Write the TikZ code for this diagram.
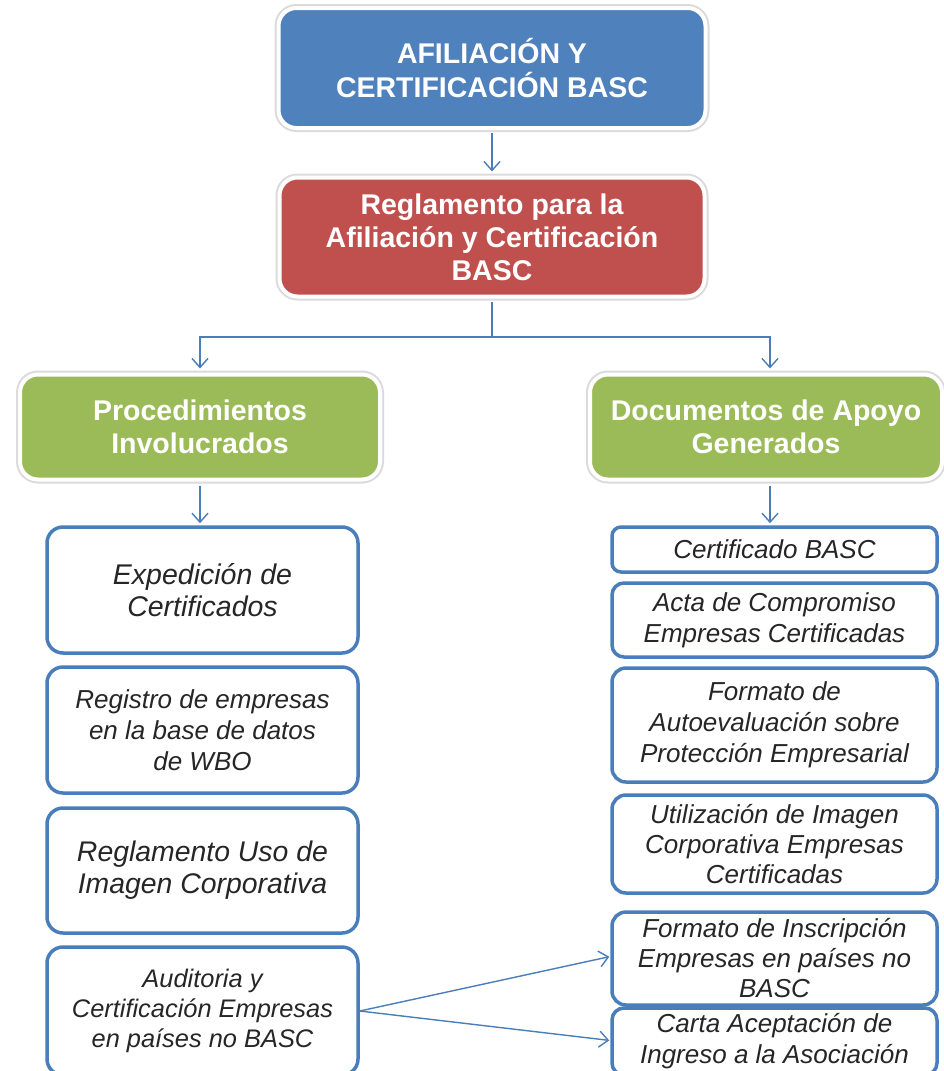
\documentclass[tikz,border=0pt]{standalone}
\usepackage{fontspec}
\setmainfont{Liberation Sans}
\usetikzlibrary{arrows.meta}
\definecolor{bascblue}{HTML}{4F81BD}
\definecolor{bascred}{HTML}{C0504D}
\definecolor{bascgreen}{HTML}{9BBB59}
\definecolor{lineblue}{HTML}{4A7EBB}
\tikzset{
  headbox/.style={rounded corners=18pt, draw=white, line width=4pt,
    preaction={draw=black!14, line width=8pt},
    text=white, align=center, inner sep=0pt,
    font=\bfseries\fontsize{28.5}{33}\selectfont},
  itembox/.style={rounded corners=16pt, draw=lineblue, line width=3.5pt, fill=white,
    align=center, inner sep=0pt, text=black!85},
  arr/.style={draw=lineblue, line width=1.4pt, -{Straight Barb[length=9pt,width=16pt,line width=1.4pt]}},
  lin/.style={draw=lineblue, line width=1.4pt}
}
\begin{document}
\begin{tikzpicture}[x=1pt,y=-1pt]
\useasboundingbox (0,0) rectangle (943,1071);
\fill[white] (0,0) rectangle (943,1071);
% header boxes
\node[headbox, fill=bascblue, minimum width=427pt, minimum height=120pt,
  font=\bfseries\fontsize{28.5}{34}\selectfont] (top) at (492,68)
  {AFILIACIÓN Y\\CERTIFICACIÓN BASC};
\node[headbox, fill=bascred, minimum width=425pt, minimum height=119pt] (reg) at (492,237)
  {Reglamento para la\\Afiliación y Certificación\\BASC};
\node[headbox, fill=bascgreen, minimum width=360pt, minimum height=105pt] (proc) at (200,427)
  {Procedimientos\\Involucrados};
\node[headbox, fill=bascgreen, minimum width=352pt, minimum height=105pt] (docs) at (766,427)
  {Documentos de Apoyo\\Generados};
% left items
\node[itembox, minimum width=311pt, minimum height=126pt,
  font=\itshape\fontsize{28.5}{32}\selectfont] (l1) at (202.5,590)
  {Expedición de\\Certificados};
\node[itembox, minimum width=311pt, minimum height=126pt,
  font=\itshape\fontsize{26}{31}\selectfont] (l2) at (202.5,730)
  {Registro de empresas\\en la base de datos\\de WBO};
\node[itembox, minimum width=311pt, minimum height=125pt,
  font=\itshape\fontsize{28.4}{32}\selectfont] (l3) at (202.5,870.5)
  {Reglamento Uso de\\Imagen Corporativa};
\node[itembox, minimum width=311pt, minimum height=128pt,
  font=\itshape\fontsize{25.4}{30}\selectfont] (l4) at (202.5,1011)
  {Auditoria y\\Certificación Empresas\\en países no BASC};
% right items
\node[itembox, rounded corners=9pt, minimum width=325pt, minimum height=45pt,
  font=\itshape\fontsize{26}{30}\selectfont] (r1) at (774.5,549.5)
  {Certificado BASC};
\node[itembox, rounded corners=12pt, minimum width=325pt, minimum height=74pt,
  font=\itshape\fontsize{26}{31}\selectfont] (r2) at (774.5,620)
  {Acta de Compromiso\\Empresas Certificadas};
\node[itembox, rounded corners=14pt, minimum width=325pt, minimum height=114pt,
  font=\itshape\fontsize{26}{31}\selectfont] (r3) at (774.5,725)
  {Formato de\\Autoevaluación sobre\\Protección Empresarial};
\node[itembox, rounded corners=14pt, minimum width=325pt, minimum height=98pt,
  font=\itshape\fontsize{26}{30}\selectfont] (r4) at (774.5,844)
  {Utilización de Imagen\\Corporativa Empresas\\Certificadas};
\node[itembox, rounded corners=14pt, minimum width=325pt, minimum height=93pt,
  font=\itshape\fontsize{26}{30}\selectfont] (r5) at (774.5,958.5)
  {Formato de Inscripción\\Empresas en países no\\BASC};
\node[itembox, rounded corners=12pt, minimum width=325pt, minimum height=67pt,
  font=\itshape\fontsize{26}{31}\selectfont] (r6) at (774.5,1041.5)
  {Carta Aceptación de\\Ingreso a la Asociación};
% connectors
\coordinate (jn) at (492,337);
\coordinate (dS) at ([xshift=4pt]docs.south);
\coordinate (dN) at ([xshift=4pt]docs.north);
\draw[arr, shorten <=3pt, shorten >=4pt] (top) -- (reg);
\draw[lin, shorten <=3pt] (reg.south) -- (jn);
\draw[arr, shorten >=4pt] (jn) -| (proc.north);
\draw[arr, shorten >=4pt] (jn) -| (dN);
\draw[arr, shorten <=4pt, shorten >=2pt] (proc.south) -- (l1.north -| proc.south);
\draw[arr, shorten <=4pt, shorten >=2pt] (dS) -- (r1.north -| dS);
\coordinate (src) at (l4.east);
\draw[arr, shorten >=1pt] (src) -- ([yshift=2pt]r5.west);
\draw[arr, shorten >=1pt] (src) -- ([yshift=1pt]r6.west);
\end{tikzpicture}
\end{document}
